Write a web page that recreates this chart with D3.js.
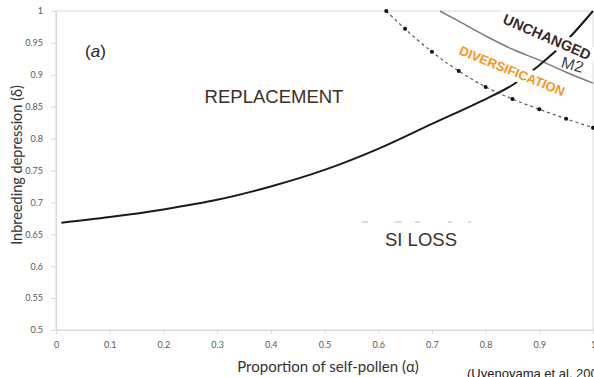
<!DOCTYPE html>
<html><head><meta charset="utf-8">
<script src="https://cdn.jsdelivr.net/npm/d3@7"></script>
<style>body{margin:0;background:#fff}svg{display:block}</style>
</head><body>
<svg id="c" width="594" height="377"></svg>
<script>
// ---- data ----
const xTicks = [0,0.1,0.2,0.3,0.4,0.5,0.6,0.7,0.8,0.9,1];
const yTicks = [0.5,0.55,0.6,0.65,0.7,0.75,0.8,0.85,0.9,0.95,1];
// solid black boundary (replacement / SI loss)
const solidAlpha = [0.01,0.1,0.2,0.3,0.4,0.5,0.6,0.7,0.8,0.85,0.9,0.95,1.0];
const solidDelta = [0.668,0.677,0.689,0.704,0.725,0.751,0.784,0.823,0.862,0.884,0.915,0.953,1.0];
// thin grey boundary
const greyAlpha = [0.715,0.75,0.8,0.85,0.9,0.95,1.0];
const greyDelta = [1.0,0.984,0.961,0.940,0.923,0.904,0.887];
// dashed boundary with markers
const dotAlpha = [0.615,0.65,0.7,0.75,0.8,0.85,0.9,0.95,1.0];
const dotDelta = [1.0,0.972,0.936,0.906,0.881,0.862,0.846,0.831,0.817];

const svg = d3.select('#c');
const x = d3.scaleLinear().domain([0,1]).range([56,593]);
const y = d3.scaleLinear().domain([0.5,1]).range([330,11]);
const grid = '#d9d9d9';

// frame
svg.append('rect').attr('x',56).attr('y',11).attr('width',537).attr('height',319)
  .attr('fill','none').attr('stroke',grid).attr('stroke-width',1);

// axes
const xa = svg.append('g').attr('transform','translate(0,330)')
  .call(d3.axisBottom(x).tickValues(xTicks).tickSize(4).tickPadding(8)
    .tickFormat(d=>d3.format('~g')(d)));
const ya = svg.append('g').attr('transform','translate(56,0)')
  .call(d3.axisLeft(y).tickValues(yTicks).tickSize(5).tickPadding(8)
    .tickFormat(d=>d3.format('~g')(d)));
[xa,ya].forEach(g=>{
  g.select('.domain').attr('stroke',grid);
  g.selectAll('.tick line').attr('stroke',grid);
  g.selectAll('.tick text').attr('fill','#595959').attr('font-family','Lato, sans-serif').attr('font-size',9);
});

const line = d3.line().x(d=>x(d[0])).y(d=>y(d[1])).curve(d3.curveCatmullRom.alpha(0.5));

// grey line
svg.append('path').datum(d3.zip(greyAlpha,greyDelta)).attr('d',line)
  .attr('fill','none').attr('stroke','#7a7a7a').attr('stroke-width',1.5);
// dashed with markers
const dd = d3.zip(dotAlpha,dotDelta);
svg.append('path').datum(dd).attr('d',line)
  .attr('fill','none').attr('stroke','#5a5a5a').attr('stroke-width',1.2).attr('stroke-dasharray','3,3');
svg.selectAll('circle.m').data(dd).join('circle').attr('class','m')
  .attr('cx',d=>x(d[0])).attr('cy',d=>y(d[1])).attr('r',2).attr('fill','#111');
// solid black
svg.append('path').datum(d3.zip(solidAlpha,solidDelta)).attr('d',line)
  .attr('fill','none').attr('stroke','#1a1a1a').attr('stroke-width',2);

// remnants of underlying labels
svg.append('text').attr('transform','translate(571,70) rotate(16)').attr('text-anchor','middle')
  .attr('font-family','Liberation Sans, Arial, sans-serif').attr('font-size',16).attr('fill','#444').text('M2');

// labels with white boxes
function boxed(cx,cy,ang,txt,size,color,weight,padX,padY){
  const g = svg.append('g').attr('transform',`translate(${cx},${cy}) rotate(${ang})`);
  const t = g.append('text').attr('text-anchor','middle').attr('dominant-baseline','central')
    .attr('font-family','Liberation Sans, Arial, sans-serif').attr('font-size',size)
    .attr('font-weight',weight).attr('fill',color).text(txt);
  const b = t.node().getBBox();
  g.insert('rect','text').attr('x',b.x-padX).attr('y',b.y-padY).attr('width',b.width+2*padX)
    .attr('height',b.height+2*padY).attr('fill','#fff');
}
boxed(547,37,23.5,'UNCHANGED',14.5,'#3a2a1e','bold',5,1);
boxed(512,71,22,'DIVERSIFICATION',13,'#f7941d','bold',2,1);

svg.append('text').attr('x',274).attr('y',103).attr('text-anchor','middle')
  .attr('font-family','Liberation Sans, Arial, sans-serif').attr('font-size',18.5).attr('fill','#3b3028').text('REPLACEMENT');
svg.append('text').attr('x',421).attr('y',246).attr('text-anchor','middle')
  .attr('font-family','Liberation Sans, Arial, sans-serif').attr('font-size',18.5).attr('fill','#3b3028').text('SI LOSS');
// faint remnants above SI LOSS
[[362,368],[395,402],[415,420],[448,452],[468,471]].forEach(s=>{
  svg.append('line').attr('x1',s[0]).attr('x2',s[1]).attr('y1',222).attr('y2',222).attr('stroke','#bbb').attr('stroke-width',1);
});

const pa = svg.append('text').attr('x',85).attr('y',57)
  .attr('font-family','Liberation Sans, Arial, sans-serif').attr('font-size',17).attr('fill','#222');
pa.append('tspan').text('(');
pa.append('tspan').attr('font-style','italic').text('a');
pa.append('tspan').text(')');

// axis titles
svg.append('text').attr('x',328).attr('y',372).attr('text-anchor','middle')
  .attr('font-family','Lato, sans-serif').attr('font-size',15).attr('fill','#333')
  .text('Proportion of self-pollen (α)');
svg.append('text').attr('transform','translate(22,165) rotate(-90)').attr('text-anchor','middle')
  .attr('font-family','Lato, sans-serif').attr('font-size',14.5).attr('fill','#333')
  .text('Inbreeding depression (δ)');
svg.append('text').attr('x',467).attr('y',378)
  .attr('font-family','Liberation Sans, Arial, sans-serif').attr('font-size',13).attr('fill','#222')
  .text('(Uyenoyama et al. 2009)');
</script>
</body></html>
